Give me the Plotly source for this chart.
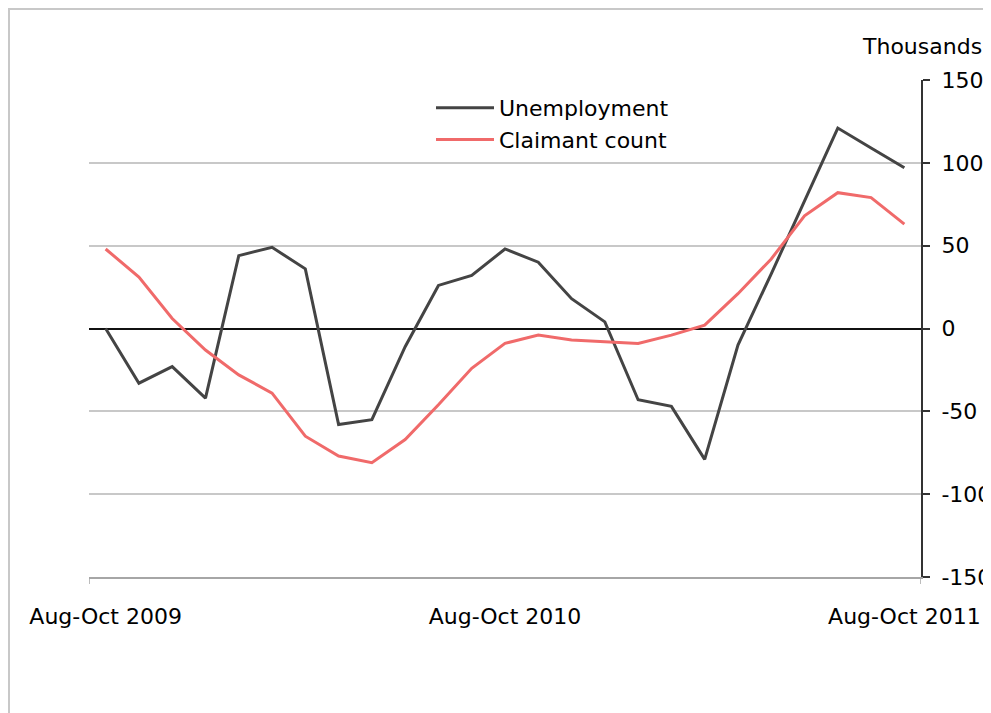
import plotly.graph_objects as go

# ---- data ----
periods = list(range(25))  # Aug-Oct 2009 ... Aug-Oct 2011 (rolling quarters)
tick_positions = [0, 12, 24]
tick_labels = ["Aug-Oct 2009", "Aug-Oct 2010", "Aug-Oct 2011"]
unemployment = [0, -33, -23, -42, 44, 49, 36, -58, -55, -11, 26, 32, 48, 40, 18, 4,
                -43, -47, -79, -10, 33, 77, 121, 109, 97]
claimant = [48, 31, 6, -13, -28, -39, -65, -77, -81, -67, -46, -24, -9, -4, -7, -8,
            -9, -4, 2, 21, 42, 68, 82, 79, 63]
y_ticks = [-150, -100, -50, 0, 50, 100, 150]
y_tick_labels = ["-150", "-100", "-50", "0", "50", "100", "150"]

FONT = "DejaVu Sans"
TXT = "#000000"

fig = go.Figure()
fig.add_trace(go.Scatter(x=periods, y=unemployment, mode="lines", name="Unemployment",
                         line=dict(color="#444444", width=3)))
fig.add_trace(go.Scatter(x=periods, y=claimant, mode="lines", name="Claimant count",
                         line=dict(color="#F06A6A", width=3)))

# page body has an 8px margin, so the figure sits at (8, 8) in the window
OFF = 8
W, H = 991 - OFF, 713 - OFF
L, R, T, B = 89 - OFF, 921 - OFF, 80 - OFF, 577 - OFF
pw, ph = R - L, B - T

def px2paper_x(px):
    return (px - OFF - L) / pw

def px2paper_y(py):
    return (B - (py - OFF)) / ph

fig.update_layout(
    width=W, height=H,
    margin=dict(l=L, r=W - R, t=T, b=H - B, autoexpand=False),
    paper_bgcolor="white", plot_bgcolor="white",
    font=dict(family=FONT, size=22, color=TXT),
    showlegend=True,
    legend=dict(x=px2paper_x(431), y=px2paper_y(87), xanchor="left", yanchor="top",
                bgcolor="rgba(0,0,0,0)", font=dict(family=FONT, size=22, color=TXT),
                itemwidth=58, tracegroupgap=0),
    xaxis=dict(range=[-0.5, 24.5], tickvals=tick_positions, ticktext=tick_labels,
               ticks="", showgrid=False, zeroline=False, showline=True,
               linecolor="#a6a6a6", linewidth=1.5, ticklabelstandoff=19,
               tickfont=dict(family=FONT, size=22, color=TXT)),
    yaxis=dict(range=[-150, 150], tickvals=y_ticks, ticktext=y_tick_labels, side="right",
               showgrid=True, gridcolor="#c8c8c8", gridwidth=1.5, zeroline=True,
               zerolinecolor="#111111", zerolinewidth=2, showline=True,
               linecolor="#333333", linewidth=2,
               ticks="outside", ticklen=7, tickwidth=2, tickcolor="#333333",
               ticklabelstandoff=7, tickfont=dict(family=FONT, size=22, color=TXT)),
    annotations=[dict(text="Thousands", xref="paper", yref="paper",
                      x=px2paper_x(984), y=px2paper_y(47), xanchor="right", yanchor="middle",
                      showarrow=False, font=dict(family=FONT, size=22, color=TXT))],
    shapes=[
        # outer frame along the figure's left and top edges
        dict(type="rect", xref="paper", yref="paper",
             x0=px2paper_x(9), x1=px2paper_x(1030), y0=px2paper_y(760), y1=px2paper_y(9),
             line=dict(color="#c8c8c8", width=2), layer="below"),
        # x-axis end tick marks
        dict(type="line", xref="x", yref="paper", x0=-0.5, x1=-0.5,
             y0=0, y1=px2paper_y(577 + 7), line=dict(color="#a6a6a6", width=1.5)),
        dict(type="line", xref="x", yref="paper", x0=24.5, x1=24.5,
             y0=0, y1=px2paper_y(577 + 7), line=dict(color="#a6a6a6", width=1.5)),
    ],
)

fig.write_html("out.html")
